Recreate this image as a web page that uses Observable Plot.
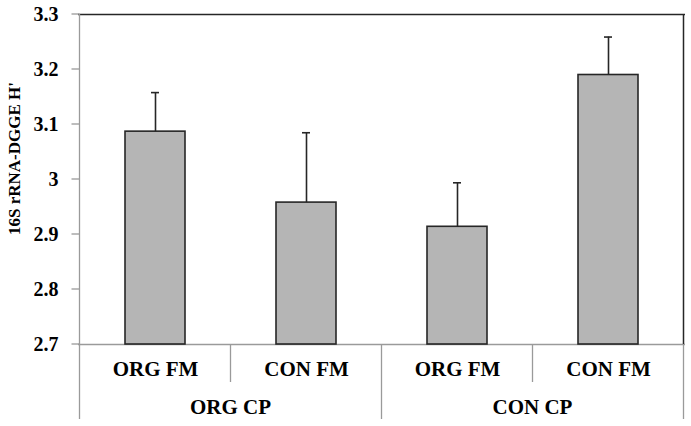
<!DOCTYPE html>
<html><head><meta charset="utf-8">
<script src="https://cdn.jsdelivr.net/npm/d3@7"></script>
<script src="https://cdn.jsdelivr.net/npm/@observablehq/plot@0.6"></script>
<style>body{margin:0;background:#fff} svg{display:block}</style>
</head><body><div id="chart"></div>
<script>
const groups = ["ORG CP", "ORG CP", "CON CP", "CON CP"];
const treatments = ["ORG FM", "CON FM", "ORG FM", "CON FM"];
const values = [3.087, 2.958, 2.914, 3.190];
const errors = [0.071, 0.127, 0.080, 0.069];
const yTicks = [2.7, 2.8, 2.9, 3, 3.1, 3.2, 3.3];
const yLabel = "16S rRNA-DGGE H'";

(function () {
const data = values.map((v, i) => ({
  key: groups[i] + " | " + treatments[i],
  group: groups[i], fm: treatments[i], value: v, upper: v + errors[i]
}));
const yMin = yTicks[0], yMax = yTicks[yTicks.length - 1];
const font = "'Liberation Serif','Times New Roman',serif";
const dark = "#262626", gray = "#9a9a9a";

const chart = Plot.plot({
  width: 691, height: 426,
  marginLeft: 78, marginRight: 6, marginTop: 14, marginBottom: 82,
  style: {fontFamily: font, background: "#fff", color: "#000"},
  x: {type: "band", domain: data.map(d => d.key), paddingInner: 0.6, paddingOuter: 0.3, axis: null},
  y: {domain: [yMin, yMax], axis: null},
  marks: [
    Plot.ruleY([yMax], {stroke: dark, strokeWidth: 1.5}),
    Plot.ruleY([yMin], {stroke: gray, strokeWidth: 1.3}),
    Plot.barY(data, {x: "key", y1: yMin, y2: "value", fill: "#b5b5b5", stroke: dark, strokeWidth: 1.6}),
    Plot.ruleX(data, {x: "key", y1: "value", y2: "upper", stroke: dark, strokeWidth: 1.6}),
    Plot.tickY(data, {x: "key", y: "upper", inset: 26, stroke: dark, strokeWidth: 1.6}),
    Plot.text(yTicks, {y: d => d, text: d => String(d), frameAnchor: "left", textAnchor: "end", dx: -20,
      fontSize: 20, fontWeight: "bold", fill: "#000"}),
    Plot.text([yLabel], {frameAnchor: "left", rotate: -90, textAnchor: "middle", dx: -64, dy: -21,
      fontSize: 17, fontWeight: "bold", fill: "#000"}),
    Plot.text(data, {x: "key", text: "fm", frameAnchor: "bottom", lineAnchor: "middle", dy: 25,
      fontSize: 21, fontWeight: "bold", fill: "#000"})
  ]
});
document.getElementById("chart").appendChild(chart);

// hierarchical category axis lines, y tick marks and group labels, positioned from Plot's own scales
const sx = chart.scale("x"), sy = chart.scale("y");
const step = sx.step, bw = sx.bandwidth;
const bounds = sx.domain.map(k => sx.apply(k) - (step - bw) / 2);
bounds.push(bounds[bounds.length - 1] + step);
const yBase = sy.apply(yMin), yTop = sy.apply(yMax);
const svgNode = chart.tagName.toLowerCase() === "svg" ? chart : chart.querySelector("svg");
const g = d3.select(svgNode).append("g");
yTicks.forEach(t => {
  g.append("line").attr("x1", bounds[0] - 8).attr("x2", bounds[0]).attr("y1", sy.apply(t)).attr("y2", sy.apply(t))
    .attr("stroke", gray).attr("stroke-width", 1.3);
});
g.append("line").attr("x1", bounds[0]).attr("x2", bounds[0]).attr("y1", yTop).attr("y2", yBase)
  .attr("stroke", gray).attr("stroke-width", 1.3);
g.append("line").attr("x1", bounds[4]).attr("x2", bounds[4]).attr("y1", yTop).attr("y2", yBase)
  .attr("stroke", dark).attr("stroke-width", 1.5);
bounds.forEach((b, i) => {
  const long = i % 2 === 0;
  g.append("line").attr("x1", b).attr("x2", b).attr("y1", yBase).attr("y2", yBase + (long ? 75 : 38))
    .attr("stroke", gray).attr("stroke-width", 1.3);
});
const groupNames = [...new Set(groups)];
groupNames.forEach((name, j) => {
  g.append("text").attr("x", (bounds[2 * j] + bounds[2 * j + 2]) / 2).attr("y", yBase + 63)
    .attr("text-anchor", "middle").attr("dy", "0.32em")
    .attr("font-family", font).attr("font-size", 21).attr("font-weight", "bold").attr("fill", "#000")
    .text(name);
});
})();
</script>
</body></html>
